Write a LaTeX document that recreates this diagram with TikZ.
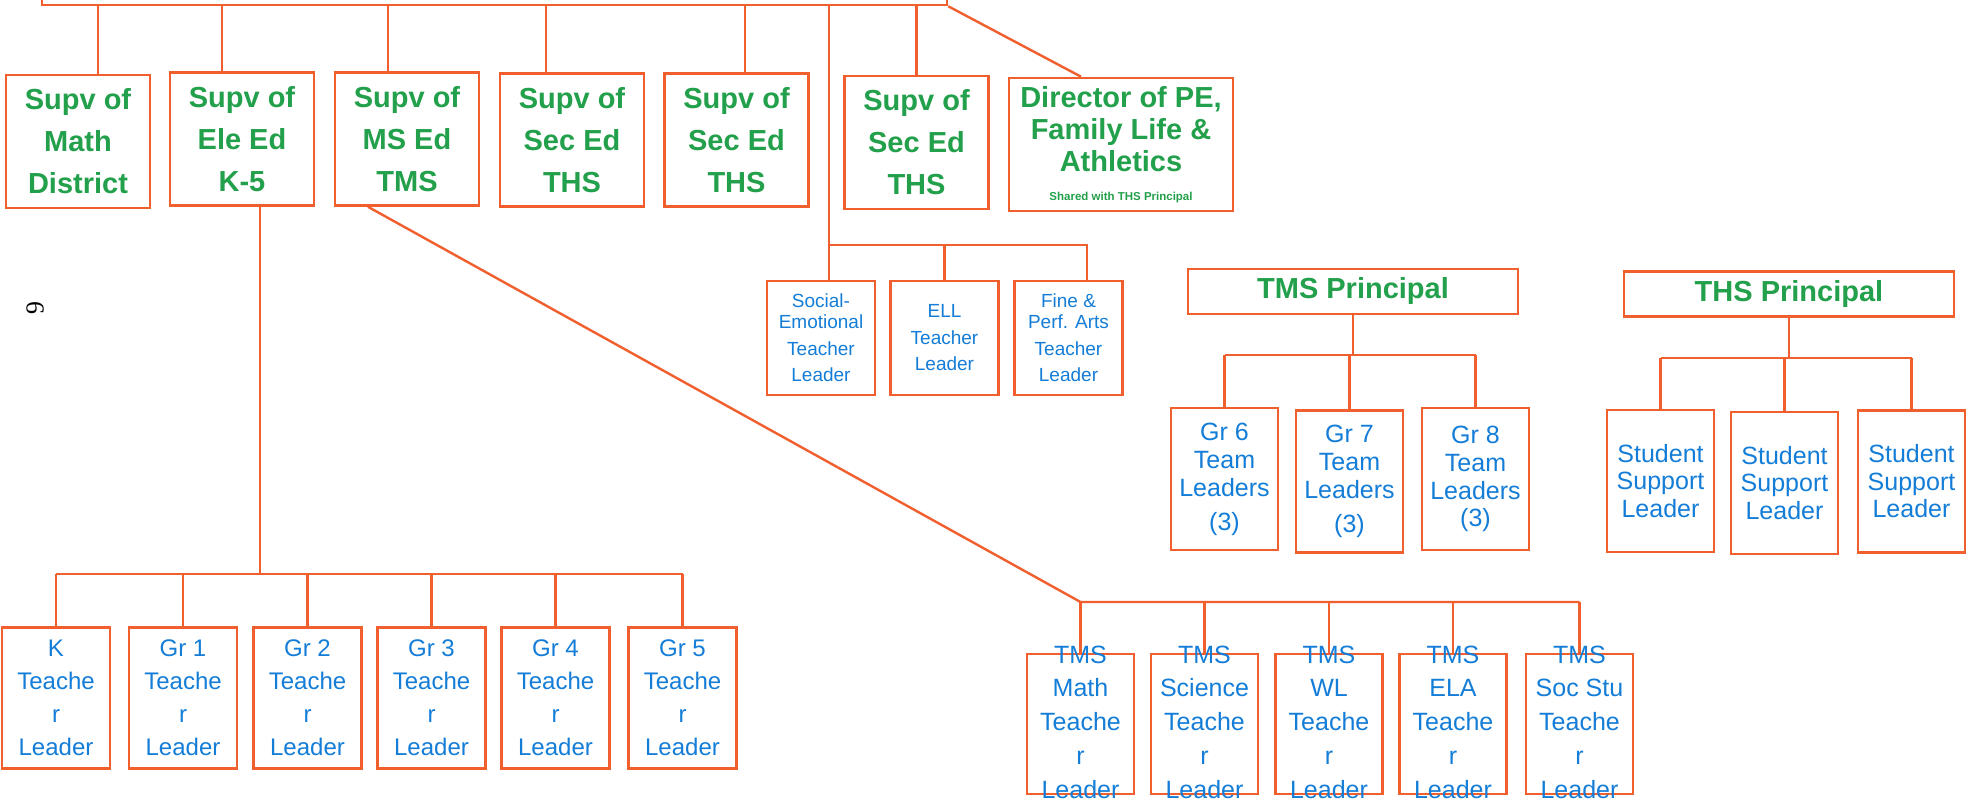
\documentclass[tikz,border=0pt]{standalone}
\usepackage{fontspec}
\setmainfont{Liberation Sans}
\newfontfamily\pagefont{Liberation Serif}
\definecolor{orgline}{RGB}{240,95,45}
\definecolor{supvgreen}{RGB}{35,160,75}
\definecolor{leadblue}{RGB}{20,125,215}
\tikzset{
  orgbox/.style={draw=orgline, line width=2.6pt, inner sep=0pt, align=center},
  supvbox/.style={orgbox, text=supvgreen, font=\fontsize{29}{42}\selectfont\bfseries, minimum width=144pt, minimum height=133pt},
  headbox/.style={orgbox, text=supvgreen, font=\fontsize{29}{34}\selectfont\bfseries, minimum width=330pt, minimum height=45pt},
  gradebox/.style={orgbox, text=leadblue, font=\fontsize{24}{33}\selectfont, minimum width=108pt, minimum height=141pt},
  tlbox/.style={orgbox, text=leadblue, font=\fontsize{19}{21}\selectfont, minimum width=108pt, minimum height=114pt},
  teambox/.style={orgbox, text=leadblue, font=\fontsize{25}{28}\selectfont, minimum width=107pt, minimum height=142pt},
  tmsbox/.style={orgbox, minimum width=107pt, minimum height=140pt},
  tmstext/.style={text=leadblue, font=\fontsize{25}{33.75}\selectfont, align=center, inner sep=0pt},
  link/.style={draw=orgline, line width=2.4pt},
}
\begin{document}
\begin{tikzpicture}[x=1pt, y=-1pt]
\clip (0,0) rectangle (1971,802);
\fill[white] (0,0) rectangle (1971,802);
% superintendent box, only its lower edge in view
\node[orgbox, minimum width=905pt, minimum height=60pt] (supt) at (494.5,-25) {};
\node[rotate=-90, font=\pagefont\fontsize{26}{26}\selectfont] (pgno) at (35,308) {6};

% supervisors
\node[supvbox] (math) at (78,141.5) {Supv of\\Math\\District};
\node[supvbox] (ele) at (242,139) {Supv of\\Ele Ed\\K-5};
\node[supvbox] (ms) at (407,139) {Supv of\\MS Ed\\TMS};
\node[supvbox] (sec1) at (572,140) {Supv of\\Sec Ed\\THS};
\node[supvbox] (sec2) at (736.5,140) {Supv of\\Sec Ed\\THS};
\node[supvbox] (sec3) at (916.5,142.5) {Supv of\\Sec Ed\\THS};
\node[supvbox, minimum width=224pt, font=\fontsize{29}{32}\selectfont\bfseries] (pe) at (1121,144.5)
  {Director of PE,\\Family Life \&\\Athletics\\[-3.5pt]{\fontsize{11.5}{12}\selectfont Shared with THS Principal}};
\foreach \n/\s in {math/20,ele/-20,ms/-19,sec1/-26,sec2/8.5}{
  \draw[link] ([xshift=\s pt]\n.north) -- ([xshift=\s pt]\n.north |- supt.south);
}
\draw[link] (sec3.north) -- (sec3.north |- supt.south);
\draw[link] (supt.south east) -- ([xshift=-40pt]pe.north);

% teacher leaders under the superintendent
\node[tlbox] (sel) at (821,338) {Social-\\Emotional\\[5.5pt]Teacher\\[5.5pt]Leader};
\node[tlbox] (ell) at (944.5,338) {ELL\\[5.5pt]Teacher\\[5.5pt]Leader};
\node[tlbox] (fine) at (1068.5,338) {Fine \&\\Perf. Arts\\[5.5pt]Teacher\\[5.5pt]Leader};
\coordinate (tlbar) at (0,245);
\draw[link] ([xshift=8pt]sel.north) -- ([xshift=8pt]sel.north |- supt.south);
\draw[link] ([xshift=8pt]sel.north |- tlbar) -- ([xshift=18.5pt]fine.north |- tlbar) -- ([xshift=18.5pt]fine.north);
\draw[link] (ell.north) -- (ell.north |- tlbar);

% elementary grade leaders
\foreach \n/\x/\g in {k/56/K,g1/183/Gr 1,g2/307.5/Gr 2,g3/431.5/Gr 3,g4/555.5/Gr 4,g5/682.5/Gr 5}{
  \node[gradebox] (\n) at (\x,698) {\g\\Teache\\r\\Leader};
}
\coordinate (kbar) at (0,574);
\draw[link] ([xshift=18pt]ele.south) -- ([xshift=18pt]ele.south |- kbar);
\draw[link] (k.north |- kbar) -- (g5.north |- kbar);
\foreach \n in {k,g1,g2,g3,g4,g5}{
  \draw[link] (\n.north) -- (\n.north |- kbar);
}

% TMS department leaders
\foreach \n/\x/\d in {tmath/1080.5/Math,tsci/1204.5/Science,twl/1329/WL,tela/1453/ELA,tsoc/1579.5/Soc Stu}{
  \node[tmsbox] (\n) at (\x,724) {};
  \node[tmstext] (\n-t) at (\x,722) {TMS\\\d\\Teache\\r\\Leader};
}
\coordinate (tmsbar) at (0,602);
\draw[link] ([xshift=-39pt]ms.south) -- (tmath.north |- tmsbar) -- (tsoc.north |- tmsbar);
\foreach \n in {tmath,tsci,twl,tela,tsoc}{
  \draw[link] (\n.north) -- (\n.north |- tmsbar);
}

% TMS principal
\node[headbox] (tmsp) at (1353,291.5) {TMS Principal};
\node[teambox] (gr6) at (1224.5,479) {Gr 6\\Team\\Leaders\\[6pt](3)};
\node[teambox] (gr7) at (1349.5,481.5) {Gr 7\\Team\\Leaders\\[6pt](3)};
\node[teambox] (gr8) at (1475.5,479) {Gr 8\\Team\\Leaders\\[-1pt](3)};
\coordinate (gbar) at (0,355);
\draw[link] (tmsp.south) -- (tmsp.south |- gbar);
\draw[link] (gr6.north |- gbar) -- (gr8.north |- gbar);
\foreach \n in {gr6,gr7,gr8}{
  \draw[link] (\n.north) -- (\n.north |- gbar);
}

% THS principal
\node[headbox] (thsp) at (1789,294) {THS Principal};
\node[teambox, font=\fontsize{25}{27.5}\selectfont] (ss1) at (1660.5,481) {Student\\Support\\Leader};
\node[teambox, font=\fontsize{25}{27.5}\selectfont] (ss2) at (1784.5,483) {Student\\Support\\Leader};
\node[teambox, font=\fontsize{25}{27.5}\selectfont] (ss3) at (1911.5,481.5) {Student\\Support\\Leader};
\coordinate (sbar) at (0,358);
\draw[link] (thsp.south) -- (thsp.south |- sbar);
\draw[link] (ss1.north |- sbar) -- (ss3.north |- sbar);
\foreach \n in {ss1,ss2,ss3}{
  \draw[link] (\n.north) -- (\n.north |- sbar);
}
\end{tikzpicture}
\end{document}
